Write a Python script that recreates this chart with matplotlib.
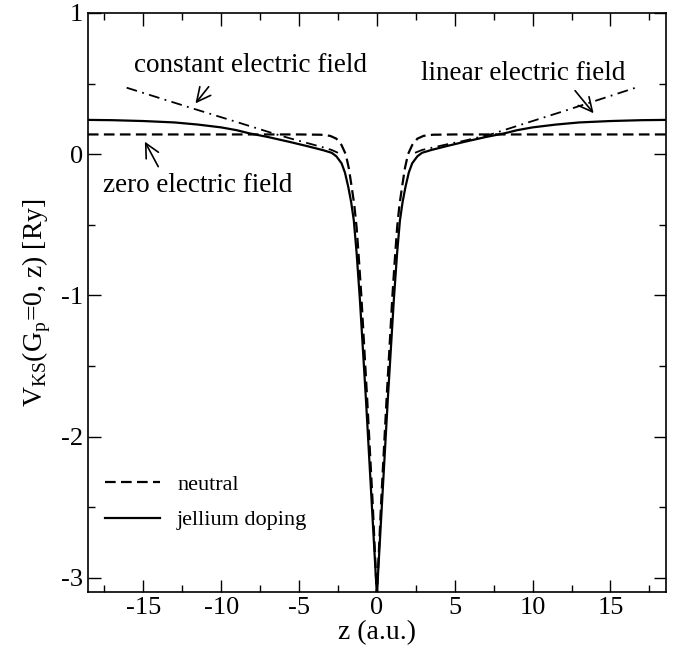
import numpy as np
import matplotlib
matplotlib.use('Agg')
import matplotlib.pyplot as plt
from matplotlib.ticker import MultipleLocator

plt.rcParams['font.family'] = ['Liberation Serif', 'DejaVu Serif']
plt.rcParams['mathtext.fontset'] = 'custom'
plt.rcParams['mathtext.rm'] = 'Liberation Serif'
plt.rcParams['axes.unicode_minus'] = False

# neutral slab (zero electric field), dashed
neutral_z = [-18.56, -10, -5, -3.6, -3.0, -2.6, -2.27, -2.0, -1.8, -1.62, -1.45, -1.3, -1.15,
             -1.0, -0.62, -0.28, 0.0, 0.28, 0.62, 1.0, 1.15, 1.3, 1.45, 1.62, 1.8, 2.0, 2.27,
             2.6, 3.0, 3.6, 5, 10, 18.56]
neutral_v = [0.14, 0.14, 0.14, 0.138, 0.13, 0.11, 0.065, 0.0, -0.1, -0.23, -0.36, -0.52, -0.75,
             -1.0, -1.74, -2.45, -3.12, -2.45, -1.74, -1.0, -0.75, -0.52, -0.36, -0.23, -0.1, 0.0,
             0.065, 0.11, 0.13, 0.138, 0.14, 0.14, 0.14]

# jellium doping, solid
doped_z = [-18.56, -17, -15, -13, -11.5, -10, -9, -8.2, -7, -5.6, -4.5, -3.5, -2.9, -2.6, -2.27,
           -2.05, -1.84, -1.65, -1.48, -1.3, -1.09, -0.7, -0.34, 0.0, 0.34, 0.7, 1.09, 1.3,
           1.48, 1.65, 1.84, 2.05, 2.27, 2.6, 2.9, 3.5, 4.5, 5.6, 7, 8.2, 9, 10, 11.5, 13, 15,
           17, 18.56]
doped_v = [0.243, 0.241, 0.235, 0.225, 0.21, 0.19, 0.17, 0.148, 0.122, 0.087, 0.058, 0.03, 0.01,
           -0.015, -0.064, -0.13, -0.23, -0.34, -0.47, -0.7, -1.03, -1.74, -2.45, -3.12, -2.45,
           -1.74, -1.03, -0.7, -0.47, -0.34, -0.23, -0.13, -0.064, -0.015, 0.01, 0.03, 0.058,
           0.087, 0.122, 0.148, 0.17, 0.19, 0.21, 0.225, 0.235, 0.241, 0.243]

# constant electric field (left side), dash-dot
const_z = [-16.07, -12, -9, -6.44, -5.5, -4.5, -3.5, -2.9, -2.5]
const_v = [0.471, 0.33, 0.228, 0.14, 0.11, 0.08, 0.05, 0.03, 0.01]

# linear electric field (right side), dash-dot
lin_z = [2.45, 2.9, 3.5, 4.5, 5.6, 7.3, 9, 12, 16.73]
lin_v = [0.01, 0.03, 0.045, 0.07, 0.095, 0.14, 0.2, 0.305, 0.475]

fig = plt.figure(figsize=(6.76, 6.53), dpi=100)
ax = fig.add_axes([0.130, 0.0934, 0.855, 0.8867])

ax.plot(neutral_z, neutral_v, color='black', lw=1.6, dashes=(4.8, 2.4), label='neutral')
ax.plot(doped_z, doped_v, color='black', lw=1.6, label='jellium doping')
ax.plot(const_z, const_v, color='black', lw=1.3, dashes=(6, 3, 1, 3))
ax.plot(lin_z, lin_v, color='black', lw=1.3, dashes=(6, 3, 1, 3))

ax.set_xlim(-18.56, 18.56)
ax.set_ylim(-3.1, 1.0)
ax.xaxis.set_major_locator(MultipleLocator(5))
ax.xaxis.set_minor_locator(MultipleLocator(2.5))
ax.yaxis.set_major_locator(MultipleLocator(1))
ax.yaxis.set_minor_locator(MultipleLocator(0.5))
ax.tick_params(which='both', direction='in', top=True, right=True, labelsize=19, width=1)
ax.tick_params(which='major', length=9)
ax.tick_params(which='minor', length=5)
for s in ax.spines.values():
    s.set_linewidth(1.2)

ax.set_xlabel('z (a.u.)', fontsize=20, labelpad=1)
ax.set_ylabel(r'V$_{\rm KS}$(G$_{\rm p}$=0, z) [Ry]', fontsize=20, labelpad=6)

arrow = dict(arrowstyle='->,head_length=0.5,head_width=0.25', color='black', lw=1.2,
             mutation_scale=20, shrinkA=0, shrinkB=0)
ax.annotate('', xy=(-11.65, 0.36), xytext=(-10.8, 0.478), arrowprops=arrow)
ax.text(-8.1, 0.63, 'constant electric field', fontsize=19.5, ha='center', va='center')
ax.annotate('', xy=(-14.9, 0.089), xytext=(-14.04, -0.088), arrowprops=arrow)
ax.text(-11.52, -0.218, 'zero electric field', fontsize=19.5, ha='center', va='center')
ax.annotate('', xy=(13.92, 0.29), xytext=(12.73, 0.45), arrowprops=arrow)
ax.text(9.37, 0.57, 'linear electric field', fontsize=19.5, ha='center', va='center')

ax.legend(loc='upper left', bbox_to_anchor=(0.014, 0.219), borderaxespad=0, frameon=False,
          fontsize=16, handlelength=2.5, handletextpad=0.75, labelspacing=0.68)

fig.savefig('out.png', dpi=100)
